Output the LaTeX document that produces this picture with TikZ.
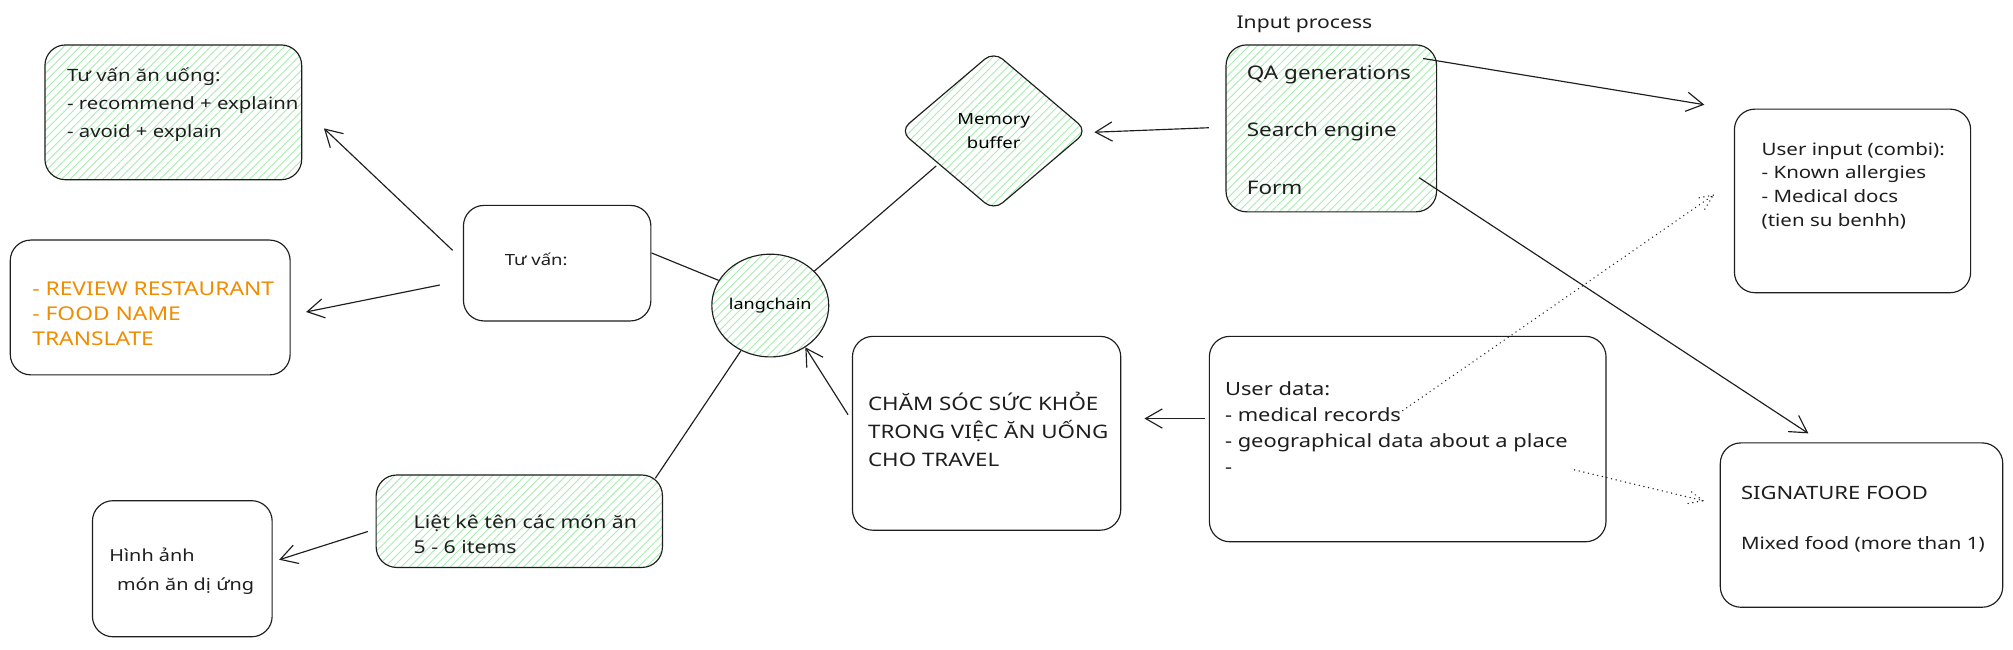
\documentclass[tikz,border=0pt]{standalone}
\usepackage{fontspec}
\setmainfont{Noto Sans}[FakeStretch=1.2]
\usetikzlibrary{arrows.meta,calc,shapes.geometric,patterns.meta}
\definecolor{ink}{HTML}{1E1E1E}
\definecolor{hatch}{HTML}{A8ECB2}
\definecolor{orng}{HTML}{F08C00}
\begin{document}
\begin{tikzpicture}[x=1pt,y=-1pt,
  box/.style={draw=ink, line width=0.9pt, rounded corners=16pt, inner sep=0pt},
  hatched/.style={pattern={Lines[angle=45,distance=4.5pt,line width=0.7pt]}, pattern color=hatch},
  txt/.style={anchor=north west, inner sep=0pt, align=left, text=ink},
  arr/.style={draw=ink, line width=0.9pt, -{Straight Barb[length=13pt,width=15pt,line width=0.9pt]}},
  link/.style={draw=ink, line width=0.9pt},
  dots/.style={draw=ink, line width=1.1pt, dash pattern=on 0.1pt off 3.6pt, line cap=round}]
\fill[white] (0,0) rectangle (1568,506);
% boxes
\node[box, hatched, minimum width=200pt, minimum height=105pt] (advice) at (135,87.5) {};
\node[box, minimum width=218pt, minimum height=105pt] (review) at (117,239.5) {};
\node[box, minimum width=146pt, minimum height=90pt] (tuvan) at (434,205) {};
\node[draw=ink, line width=0.9pt, ellipse, hatched, minimum width=88pt, minimum height=80pt, inner sep=0pt, font=\fontsize{11.7}{14}\selectfont] (lang) at (600,238) {langchain};
\node[draw=ink, line width=0.9pt, diamond, rounded corners=9pt, hatched, minimum width=146pt, minimum height=124pt, inner sep=0pt, align=center, font=\fontsize{12}{19}\selectfont] (mem) at (774,102) {Memory\\buffer};
\node[box, hatched, minimum width=164pt, minimum height=130pt] (qa) at (1037,100) {};
\node[box, minimum width=184pt, minimum height=143pt] (uinput) at (1443,156.5) {};
\node[box, minimum width=309pt, minimum height=160pt] (udata) at (1096.5,342) {};
\node[box, minimum width=209pt, minimum height=151pt] (care) at (768.5,337.5) {};
\node[box, minimum width=220pt, minimum height=128pt] (sig) at (1450,409) {};
\node[box, hatched, minimum width=223pt, minimum height=72pt] (list) at (404.5,406) {};
\node[box, minimum width=140pt, minimum height=106pt] (img) at (142,443) {};
% texts
\node[txt, font=\fontsize{13.2}{21.5}\selectfont] (t-advice) at (52,48.5) {\strut Tư vấn ăn uống:\\- recommend + explainn\\- avoid + explain};
\node[txt, text=orng, font=\fontsize{14.8}{19.5}\selectfont] (t-review) at (25,216.6) {\strut - REVIEW RESTAURANT\\- FOOD NAME\\TRANSLATE};
\node[txt, font=\fontsize{12}{18}\selectfont] (t-tuvan) at (393,193.9) {\strut Tư vấn:};
\node[txt, font=\fontsize{13.7}{18}\selectfont] (t-input) at (963,9.1) {\strut Input process};
\node[txt, font=\fontsize{14.6}{45}\selectfont] (t-qa) at (971,30) {\strut QA generations\\Search engine\\Form};
\node[txt, font=\fontsize{13.3}{18.5}\selectfont] (t-uinput) at (1372,107.6) {\strut User input (combi):\\- Known allergies\\- Medical docs\\(tien su benhh)};
\node[txt, font=\fontsize{14.2}{20.3}\selectfont] (t-udata) at (954,293.8) {\strut User data:\\- medical records\\- geographical data about a place\\-};
\node[txt, font=\fontsize{14.5}{22}\selectfont] (t-care) at (676,303.8) {\strut CHĂM SÓC SỨC KHỎE\\TRONG VIỆC ĂN UỐNG\\CHO TRAVEL};
\node[txt, font=\fontsize{13.3}{39}\selectfont] (t-sig) at (1356,361.8) {\strut{\fontsize{14.3}{39}\selectfont SIGNATURE FOOD}\\Mixed food (more than 1)};
\node[txt, font=\fontsize{13.8}{20}\selectfont] (t-list) at (322,397.2) {\strut Liệt kê tên các món ăn\\5 - 6 items};
\node[txt, font=\fontsize{12.9}{22}\selectfont] (t-img) at (85,422.1) {\strut Hình ảnh\\\hspace{6pt}món ăn dị ứng};
% connectors
\draw[arr] ($(tuvan.west)+(-8,-10)$) -- ($(advice.east)+(17,12.5)$);
\draw[arr] ($(tuvan.west)+(-18,17)$) -- ($(review.east)+(12,3.5)$);
\draw[link] ($(tuvan.east)+(0,-8)$) -- (lang.154);
\draw[link] (lang.38) -- ($(mem.south west)+(-8,-4)$);
\draw[link] (lang.237) -- ($(list.north east)+(-6,3)$);
\draw[arr] ($(list.west)+(-6,8)$) -- ($(img.east)+(5,-7)$);
\draw[arr] ($(care.west)+(-3,-14.5)$) -- (lang.-50);
\draw[arr] ($(udata.west)+(-3,-16)$) -- ($(care.east)+(18,-11.5)$);
\draw[arr] ($(qa.west)+(-13,-0.5)$) -- ($(mem.east)+(5,1)$);
\draw[arr] ($(qa.north east)+(-11,11)$) -- ($(uinput.north west)+(-23,-3)$);
\draw[arr] ($(qa.south east)+(-14,-27)$) -- ($(sig.north west)+(69,-7)$);
% dotted arrows
\coordinate (d1s) at ($(udata.west)+(145,-18)$);
\coordinate (d1e) at ($(uinput.west)+(-16,-4.5)$);
\draw[dots] (d1s) -- (d1e) -- ($(d1e)!13pt!24:(d1s)$) (d1e) -- ($(d1e)!13pt!-24:(d1s)$);
\coordinate (d2s) at ($(udata.east)+(-25,24)$);
\coordinate (d2e) at ($(sig.west)+(-13,-19)$);
\draw[dots] (d2s) -- (d2e) -- ($(d2e)!13pt!24:(d2s)$) (d2e) -- ($(d2e)!13pt!-24:(d2s)$);
\end{tikzpicture}
\end{document}
